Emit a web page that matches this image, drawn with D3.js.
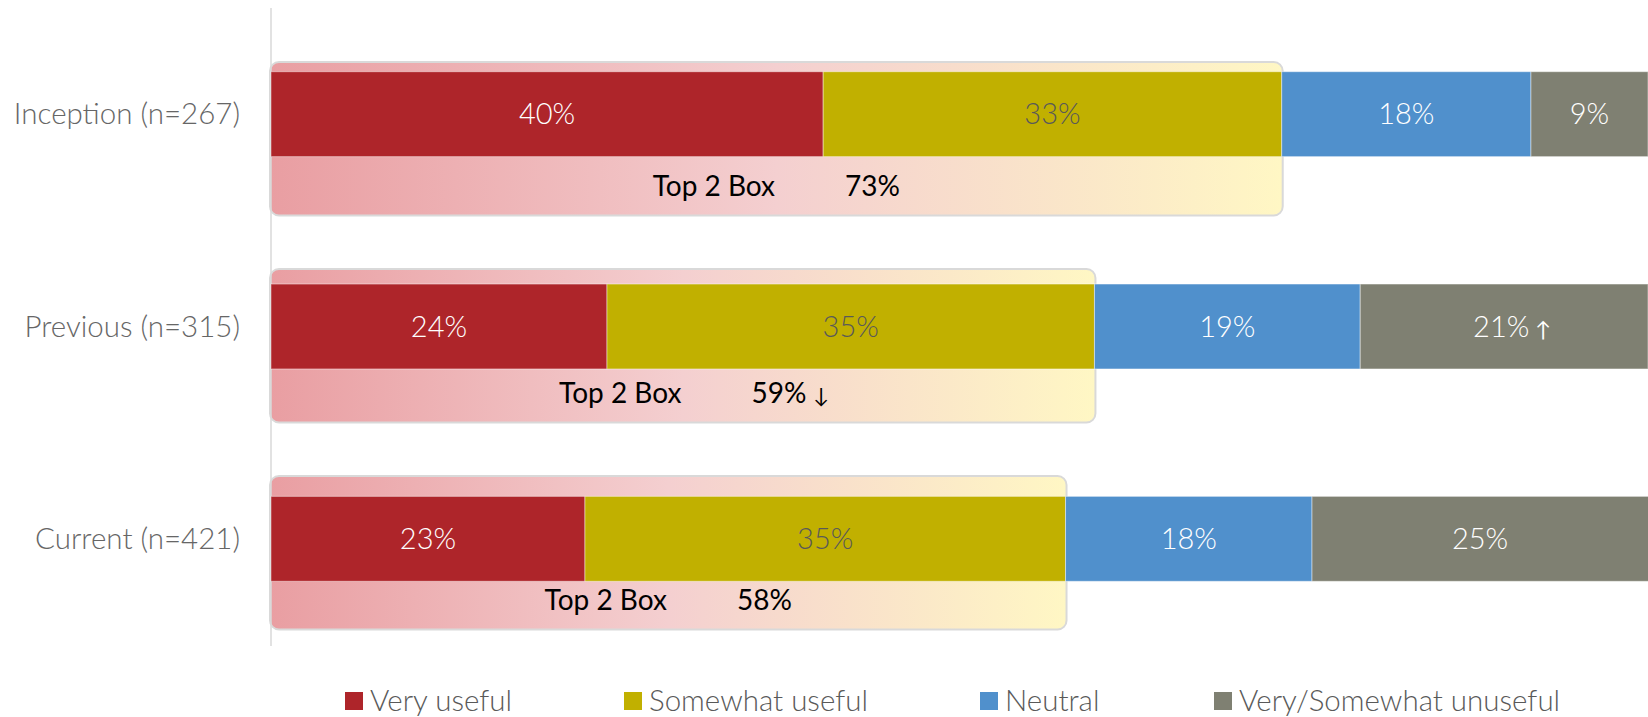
<!DOCTYPE html>
<html><head><meta charset="utf-8">
<script src="https://cdn.jsdelivr.net/npm/d3@7"></script>
<style>
html,body{margin:0;padding:0;background:#fff;}
svg{display:block;}
</style></head>
<body>
<svg id="chart" width="1648" height="717"></svg>
<script>
const categories = ["Inception (n=267)", "Previous (n=315)", "Current (n=421)"];
const seriesNames = ["Very useful", "Somewhat useful", "Neutral", "Very/Somewhat unuseful"];
const veryUseful = [40.1, 24.4, 22.8];
const somewhatUseful = [33.3, 35.4, 34.9];
const neutral = [18.1, 19.3, 17.9];
const unuseful = [8.5, 20.9, 24.5];
const valueLabels = [["40%","33%","18%","9%"],["24%","35%","19%","21%"],["23%","35%","18%","25%"]];
const valueArrows = [["","","",""],["","","","↑"],["","","",""]];
const top2Labels = ["73%", "59%", "58%"];
const top2Arrows = ["", "↓", ""];
const colors = ["#ae252a", "#c1b000", "#5090cc", "#7f8072"];
const labelColors = ["#ffffff", "#595959", "#ffffff", "#ffffff"];

const series = [veryUseful, somewhatUseful, neutral, unuseful];
const table = categories.map((c, i) => {
  const row = {cat: c, i};
  seriesNames.forEach((s, j) => row[s] = series[j][i]);
  return row;
});
const stacked = d3.stack().keys(seriesNames)(table);

const svg = d3.select("#chart");
const font = "Lato, 'Open Sans', sans-serif";
const x = d3.scaleLinear().domain([0, 100]).range([271, 1648]);
const y = d3.scaleBand().domain(categories).range([8, 645]);
const yBox = d3.scaleBand().domain(categories).range([62, 62 + 3 * 207]);
const barH = y.bandwidth() * 0.4;
const boxH = 153.5;
const cy = c => y(c) + y.bandwidth() / 2;

// gradient for top-2 box
const defs = svg.append("defs");
const grad = defs.append("linearGradient").attr("id", "t2g").attr("x1", "0").attr("x2", "1").attr("y1", "0").attr("y2", "0");
grad.append("stop").attr("offset", "0").attr("stop-color", "#e99ea2");
grad.append("stop").attr("offset", "0.5").attr("stop-color", "#f4cfd0");
grad.append("stop").attr("offset", "1").attr("stop-color", "#fff7c4");

// top 2 boxes
const top2 = categories.map((c, i) => veryUseful[i] + somewhatUseful[i]);
const boxes = svg.append("g");
categories.forEach((c, i) => {
  boxes.append("rect")
    .attr("x", x(0) - 1).attr("y", yBox(c))
    .attr("width", x(top2[i]) - x(0) + 2).attr("height", boxH)
    .attr("rx", 9).attr("ry", 9)
    .attr("fill", "url(#t2g)").attr("stroke", "#d9d9d9").attr("stroke-width", 2);
});

// axis line
svg.append("line").attr("x1", 271).attr("x2", 271).attr("y1", 8).attr("y2", 646)
  .attr("stroke", "#d9d9d9").attr("stroke-width", 1.5);

// bars
const g = svg.append("g");
stacked.forEach((layer, j) => {
  g.selectAll(null).data(layer).enter().append("rect")
    .attr("x", d => x(d[0]))
    .attr("width", d => x(d[1]) - x(d[0]))
    .attr("y", d => cy(d.data.cat) - barH / 2)
    .attr("height", barH)
    .attr("fill", colors[j])
    .attr("stroke", "rgba(255,255,255,0.45)").attr("stroke-width", 1);
});
stacked.forEach((layer, j) => {
  g.selectAll(null).data(layer).enter().append("text")
    .attr("x", d => (x(d[0]) + Math.min(x(d[1]), 1648)) / 2 + (valueArrows[d.data.i][j] ? 8 : 0))
    .attr("y", d => cy(d.data.cat))
    .attr("dy", "0.35em")
    .attr("text-anchor", "middle")
    .attr("font-family", font).attr("font-weight", 300)
    .attr("font-size", 29)
    .attr("fill", labelColors[j])
    .text(d => valueLabels[d.data.i][j])
    .append("tspan").attr("font-size", 21).attr("dx", 6).attr("font-weight", 400)
    .text(d => valueArrows[d.data.i][j]);
});

// category labels
svg.append("g").selectAll("text").data(categories).enter().append("text")
  .attr("x", 240).attr("y", d => cy(d)).attr("dy", "0.35em")
  .attr("text-anchor", "end")
  .attr("font-family", font).attr("font-weight", 300).attr("font-size", 29.5)
  .attr("fill", "#666666").text(d => d);

// top 2 box texts
categories.forEach((c, i) => {
  const ty = yBox(c) + 124;
  const center = (x(0) + x(top2[i])) / 2;
  const t1 = svg.append("text").attr("y", ty).attr("dy", "0.35em")
    .attr("font-family", font).attr("font-size", 28).attr("fill", "#000").text("Top 2 Box");
  const t2 = svg.append("text").attr("y", ty).attr("dy", "0.35em")
    .attr("font-family", font).attr("font-size", 28).attr("fill", "#000").text(top2Labels[i]);
  const w1 = t1.node().getComputedTextLength();
  const w2 = t2.node().getComputedTextLength();
  const gap = 70;
  const start = center - (w1 + gap + w2) / 2;
  t1.attr("x", start);
  t2.attr("x", start + w1 + gap);
  if (top2Arrows[i]) t2.append("tspan").attr("font-size", 21).attr("dx", 7).text(top2Arrows[i]);
});

// legend
const legX = [345, 624, 980, 1214];
const leg = svg.append("g");
seriesNames.forEach((s, j) => {
  leg.append("rect").attr("x", legX[j]).attr("y", 692).attr("width", 18).attr("height", 18).attr("fill", colors[j]);
  leg.append("text").attr("x", legX[j] + 25).attr("y", 701).attr("dy", "0.35em")
    .attr("font-family", font).attr("font-weight", 300).attr("font-size", 29.5)
    .attr("fill", "#595959").text(s);
});
</script>
</body></html>
